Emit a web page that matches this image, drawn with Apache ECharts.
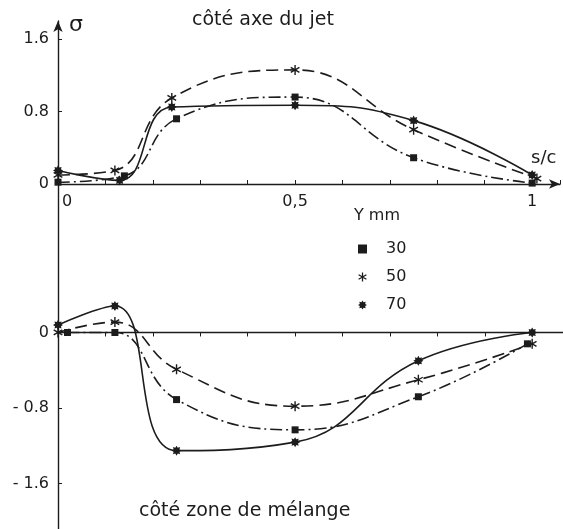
<!DOCTYPE html>
<html>
<head>
<meta charset="utf-8">
<script src="https://cdn.jsdelivr.net/npm/echarts@6/dist/echarts.min.js"></script>
<style>
  html, body { margin: 0; padding: 0; background: #fff; }
  #chart { width: 563px; height: 529px; }
</style>
</head>
<body>
<div id="chart"></div>
<script>
// côté axe du jet (panneau haut) : s/c et sigma pour Y = 30, 50, 70 mm
const topX30 = [0, 0.14, 0.25, 0.5, 0.75, 1];
const topY30 = [0.02, 0.09, 0.72, 0.96, 0.29, 0.01];
const topX50 = [0, 0.12, 0.24, 0.5, 0.75, 1.01];
const topY50 = [0.1, 0.15, 0.95, 1.26, 0.6, 0.06];
const topX70 = [0, 0.13, 0.24, 0.5, 0.75, 1];
const topY70 = [0.15, 0.04, 0.85, 0.87, 0.7, 0.1];

// côté zone de mélange (panneau bas)
const botX30 = [0.02, 0.12, 0.25, 0.5, 0.76, 0.99];
const botY30 = [0, 0, -0.71, -1.03, -0.68, -0.12];
const botX50 = [0, 0.12, 0.25, 0.5, 0.76, 1.0];
const botY50 = [0, 0.11, -0.39, -0.78, -0.5, -0.12];
const botX70 = [0, 0.12, 0.25, 0.5, 0.76, 1.0];
const botY70 = [0.08, 0.28, -1.25, -1.16, -0.3, 0];

const legendNames = ["30", "50", "70"];
const topXLabels = [0, 0.5, 1];
const topYLabels = [0, 0.8, 1.6];
const botYLabels = [0, -0.8, -1.6];

const ink = "#1c1c1c";
const font = "DejaVu Sans";

// astérisque (3 barres) et étoile pleine à 8 branches
const starPath = "path://M8.6 0L11.4 0L11.4 20L8.6 20Z" +
  "M2.04 3.79L19.36 13.79L17.96 16.21L0.64 6.21Z" +
  "M0.64 13.79L17.96 3.79L19.36 6.21L2.04 16.21Z";
let burst = "";
for (let k = 0; k < 16; k++) {
  const a = (k * Math.PI) / 8;
  const r = k % 2 ? 6.4 : 10;
  burst += (k ? "L" : "M") + (10 + r * Math.cos(a)).toFixed(2) + " " + (10 + r * Math.sin(a)).toFixed(2);
}
const burstPath = "path://" + burst + "Z";

const symbols = { "30": ["rect", 7], "50": [starPath, 10], "70": [burstPath, 10] };
const dashes = { "30": [12, 4, 2, 4], "50": [12, 6], "70": "solid" };

function mk(name, xs, ys, idx) {
  return {
    name,
    type: "line",
    xAxisIndex: idx,
    yAxisIndex: idx,
    data: xs.map((x, i) => [x, ys[i]]),
    smooth: 0.45,
    symbol: symbols[name][0],
    symbolSize: symbols[name][1],
    symbolKeepAspect: true,
    showAllSymbol: true,
    clip: false,
    itemStyle: { color: ink },
    lineStyle: { color: ink, width: 1.6, type: dashes[name] },
  };
}

const txt = (text, left, top, size) => ({
  text, left, top, padding: 0,
  textStyle: { fontFamily: font, fontSize: size, fontWeight: "normal", color: ink },
});

const chart = echarts.init(document.getElementById("chart"));
chart.setOption({
  animation: false,
  backgroundColor: "#fff",
  title: [
    txt("σ", 69, 14, 22),
    txt("côté axe du jet", 192, 11, 19),
    txt("s/c", 531, 149, 18),
    txt("Y mm", 354, 208, 16),
    txt("côté zone de mélange", 139, 502, 19),
  ],
  legend: {
    orient: "vertical",
    left: 358,
    top: 241,
    itemWidth: 9,
    itemHeight: 9,
    itemGap: 12,
    padding: 0,
    data: legendNames.map((n) => ({ name: n, icon: symbols[n][0] })),
    itemStyle: { color: ink, borderWidth: 0 },
    textStyle: { fontFamily: font, fontSize: 16, color: ink, padding: [0, 0, 0, 14] },
  },
  grid: [
    { left: 58, right: 3, top: 21, height: 163, outerBoundsMode: "none" },
    { left: 58, right: 0, top: 185, bottom: -2, outerBoundsMode: "none" },
  ],
  xAxis: [
    {
      gridIndex: 0, type: "value", min: 0, max: 1.0587, interval: 0.1,
      splitLine: { show: false },
      axisLine: { lineStyle: { color: ink, width: 1.4 }, symbol: ["none", "arrow"], symbolSize: [7, 11] },
      axisTick: { inside: true, length: 4, lineStyle: { color: ink } },
      axisLabel: {
        customValues: topXLabels, margin: 10, color: ink, fontFamily: font, fontSize: 16,
        formatter: (v) => (v === 0 ? "{z|0}" : String(v).replace(".", ",")),
        rich: { z: { padding: [0, 0, 0, 18], fontFamily: font, fontSize: 16, color: ink } },
      },
    },
    {
      gridIndex: 1, type: "value", min: 0, max: 1.065, interval: 0.1,
      splitLine: { show: false },
      axisLine: { onZero: true, lineStyle: { color: ink, width: 1.4 } },
      axisTick: { length: 4, lineStyle: { color: ink } },
      axisLabel: { show: false },
    },
  ],
  yAxis: [
    {
      gridIndex: 0, type: "value", min: 0, max: 1.8,
      splitLine: { show: false },
      axisLine: { lineStyle: { color: ink, width: 1.4 }, symbol: ["none", "arrow"], symbolSize: [7, 11] },
      axisTick: { customValues: [0.8, 1.6], inside: true, length: 4, lineStyle: { color: ink } },
      axisLabel: {
        customValues: topYLabels, margin: 9, color: ink, fontFamily: font, fontSize: 16,
        formatter: (v) => (v === 0 ? "0" : v.toFixed(1)),
      },
    },
    {
      gridIndex: 1, type: "value", min: -2.1, max: 1.56,
      splitLine: { show: false },
      axisLine: { lineStyle: { color: ink, width: 1.4 } },
      axisTick: { customValues: [-0.8, -1.6], inside: true, length: 4, lineStyle: { color: ink } },
      axisLabel: {
        customValues: botYLabels, margin: 9, color: ink, fontFamily: font, fontSize: 16,
        formatter: (v) => (v === 0 ? "0" : "- " + Math.abs(v).toFixed(1)),
      },
    },
  ],
  series: [
    mk("30", topX30, topY30, 0),
    mk("50", topX50, topY50, 0),
    mk("70", topX70, topY70, 0),
    mk("30", botX30, botY30, 1),
    mk("50", botX50, botY50, 1),
    mk("70", botX70, botY70, 1),
  ],
});
</script>
</body>
</html>
